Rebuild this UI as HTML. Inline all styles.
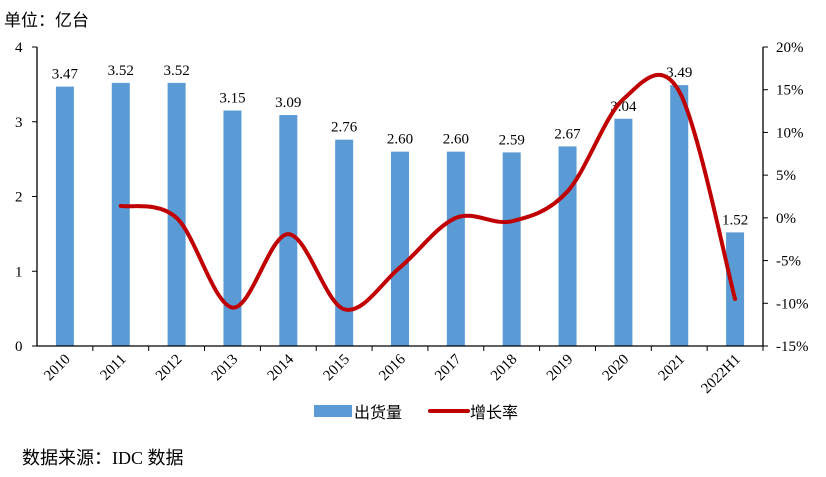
<!DOCTYPE html>
<html><head><meta charset="utf-8"><style>
body{margin:0;background:#fff;width:826px;height:472px;overflow:hidden}
text{font-family:"Liberation Serif","Noto Serif CJK SC",serif;fill:#000}
.cn{font-family:"Liberation Serif","Noto Sans CJK SC",serif}
</style></head><body>
<svg width="826" height="472">
<text class="cn" x="4" y="26" font-size="17">单位：亿台</text>
<g id="g"></g>
<text class="cn" x="22" y="464" font-size="18">数据来源：IDC 数据</text>
</svg>
<script>
const categories=["2010","2011","2012","2013","2014","2015","2016","2017","2018","2019","2020","2021","2022H1"];
const shipments=[3.47,3.52,3.52,3.15,3.09,2.76,2.60,2.60,2.59,2.67,3.04,3.49,1.52];
const growth=[null,1.4,0,-10.5,-1.9,-10.7,-5.8,0,-0.4,3.1,13.9,14.8,-9.5];
const leftTicks=[0,1,2,3,4];
const rightTicks=[-15,-10,-5,0,5,10,15,20];
const NS="http://www.w3.org/2000/svg",g=document.getElementById('g');
const x0=37,x1=763,yb=346,yt=47,step=(x1-x0)/categories.length;
const xc=i=>x0+step*(i+0.5);
const yL=v=>yb-(v/4)*(yb-yt);
const yR=v=>yb-((v+15)/35)*(yb-yt);
function mk(t,a,txt){const e=document.createElementNS(NS,t);for(const k in a)e.setAttribute(k,a[k]);if(txt!=null)e.textContent=txt;g.appendChild(e);return e;}
shipments.forEach((v,i)=>{
 const r=mk('rect',{x:xc(i)-9,y:yL(v),width:18,height:yb-yL(v),fill:'#5b9bd5'});
 
 
 const t=mk('text',{x:xc(i),y:yL(v)-8,'text-anchor':'middle','font-size':15},v.toFixed(2));
 
 
 const c=mk('text',{transform:`translate(${xc(i)+6},${yb+14}) rotate(-45)`,'text-anchor':'end','font-size':15},categories[i]);
 
 
 const tk=mk('line',{x1:x0+step*(i+1),x2:x0+step*(i+1),y1:yb,y2:yb+5,stroke:'#000'});
 
 
});
const ax=mk('path',{d:`M${x0},${yt}V${yb}H${x1}V${yt}`,fill:'none',stroke:'#000','stroke-width':1.3});


leftTicks.forEach(v=>{
 const t=mk('text',{x:x0-22,y:yL(v)+5,'text-anchor':'start','font-size':15},String(v));
 
 
 mk('line',{x1:x0-5,x2:x0,y1:yL(v),y2:yL(v),stroke:'#000'});
});
rightTicks.forEach(v=>{
 const t=mk('text',{x:x1+13,y:yR(v)+5,'font-size':15},v+'%');
 
 
 mk('line',{x1:x1,x2:x1+5,y1:yR(v),y2:yR(v),stroke:'#000'});
});
const pts=[];growth.forEach((v,i)=>{if(v!=null)pts.push([xc(i),yR(v)]);});
let d=`M${pts[0][0]},${pts[0][1]}`;
for(let i=0;i<pts.length-1;i++){
 const p0=pts[Math.max(0,i-1)],p1=pts[i],p2=pts[i+1],p3=pts[Math.min(pts.length-1,i+2)];
 const c1=[p1[0]+(p2[0]-p0[0])/6,p1[1]+(p2[1]-p0[1])/6],c2=[p2[0]-(p3[0]-p1[0])/6,p2[1]-(p3[1]-p1[1])/6];
 d+=`C${c1[0]},${c1[1]} ${c2[0]},${c2[1]} ${p2[0]},${p2[1]}`;
}
const ln=mk('path',{d,fill:'none',stroke:'#c00000','stroke-width':4,'stroke-linecap':'round'});


const l1=mk('rect',{x:314,y:405,width:38,height:12,fill:'#5b9bd5'});


const lt1=mk('text',{x:354,y:418,'font-size':16,'class':'cn'},'出货量');


const l2=mk('line',{x1:430,x2:468,y1:411,y2:411,stroke:'#c00000','stroke-width':4,'stroke-linecap':'round'});


const lt2=mk('text',{x:470,y:418,'font-size':16,'class':'cn'},'增长率');


</script>
</body></html>
